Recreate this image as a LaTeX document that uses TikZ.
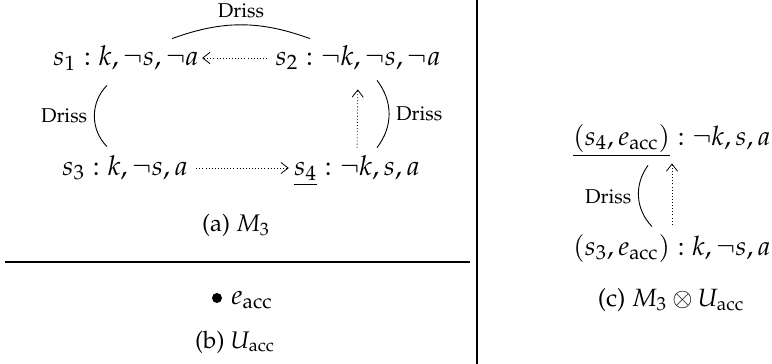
\documentclass[tikz,border=0pt]{standalone}
\usepackage[T1]{fontenc}
\usepackage{mathpazo}
\usetikzlibrary{arrows.meta,calc}
\begin{document}
\begin{tikzpicture}[x=0.5pt,y=-0.5pt,
  state/.style={inner sep=0pt, anchor=base, text height=10pt, text depth=3pt, font=\fontsize{13.7}{16}\selectfont},
  stater/.style={state, font=\fontsize{13.4}{16}\selectfont},
  lbl/.style={font=\fontsize{10}{12}\selectfont},
  captxt/.style={font=\fontsize{12}{14}\selectfont, inner sep=0pt},
  dotarrow/.style={dash pattern=on 0.45pt off 1.1pt, -{Straight Barb[length=3.6pt,width=5.6pt]}},
  drissarc/.style={line width=0.45pt},
  rulel/.style={line width=0.6pt}]
\useasboundingbox (0,0) rectangle (772,364);
% panel (a)
\node[state] (s1) at (126,65) {$s_1 : k, \neg s, \neg a$};
\node[state] (s2) at (358,65) {$s_2 : \neg k, \neg s, \neg a$};
\node[state] (s3) at (125,175) {$s_3 : k, \neg s, a$};
\node[state] (s4) at (357,175) {$\underline{s_4} : \neg k, s, a$};
\draw[dotarrow, shorten <=4pt, shorten >=1.5pt] (s2.west) -- (s1.east);
\draw[dotarrow, shorten <=4pt, shorten >=2.5pt] (s3.east) -- (s4.west);
\draw[dotarrow, shorten <=3.5pt, shorten >=9pt] (s4.north) -- (s2.south);
\draw[drissarc] ($(s1.north)+(46,-6)$) to[bend left=20] node[lbl, above] (d1) {Driss} ($(s2.north)+(-48,-6)$);
\draw[drissarc] ($(s1.south)+(-19,14)$) to[bend right=45] node[lbl, left] (d2) {Driss} ($(s3.north)+(-18,-8)$);
\draw[drissarc] ($(s2.south)+(19,9)$) to[bend left=38] node[lbl, right] (d3) {Driss} ($(s4.north)+(20,-7)$);
\node[captxt] (capa) at (236,225) {(a) $M_3$};
% rules
\draw[rulel] (5,262) -- (470,262);
\draw[rulel] (477,0) -- (477,364);
% panel (b)
\node[circle, fill, inner sep=0pt, minimum size=5pt] (e) at (217,298) {};
\node[inner sep=0pt, anchor=west, font=\fontsize{13.7}{16}\selectfont] (el) at (231,300) {$e_{\mathrm{acc}}$};
\node[captxt] (capb) at (235,342) {(b) $U_{\mathrm{acc}}$};
% panel (c)
\node[stater] (t) at (672,145) {$\underline{(s_4, e_{\mathrm{acc}})} : \neg k, s, a$};
\node[stater] (b) at (672,255) {$(s_3, e_{\mathrm{acc}}) : k, \neg s, a$};
\draw[dotarrow, shorten <=5pt, shorten >=6pt] (b.north) -- (t.south);
\draw[drissarc] ($(t.south)+(-24,14)$) to[bend right=40] node[lbl, left] (d4) {Driss} ($(b.north)+(-20,-8)$);
\node[captxt, font=\fontsize{12.5}{14}\selectfont] (capc) at (671,300) {(c) $M_3 \otimes U_{\mathrm{acc}}$};
\end{tikzpicture}
\end{document}
